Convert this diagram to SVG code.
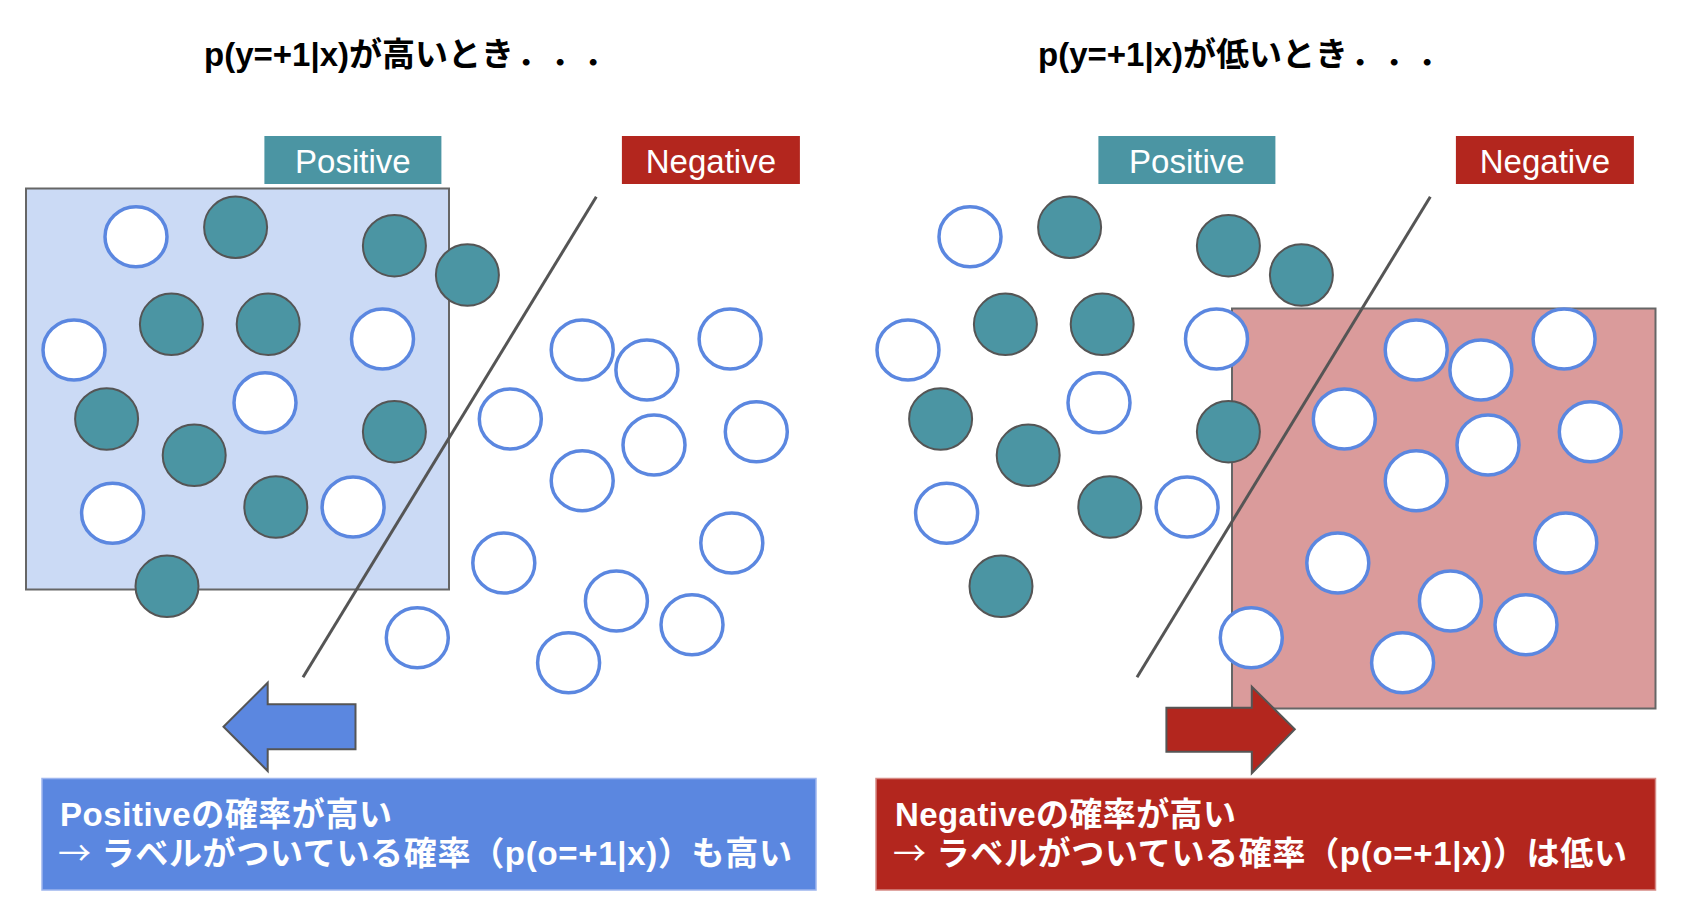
<svg xmlns="http://www.w3.org/2000/svg" xmlns:xlink="http://www.w3.org/1999/xlink" width="1706" height="918" viewBox="0 0 1706 918">
<style>
.title{font-family:"Liberation Sans","Noto Sans CJK JP",sans-serif;font-weight:bold;font-size:33px;fill:#000}
.lbl{font-family:"Liberation Sans","Noto Sans CJK JP",sans-serif;font-size:33px;fill:#fff;text-anchor:middle}
.box{font-family:"Liberation Sans","Noto Sans CJK JP",sans-serif;font-weight:bold;font-size:33px;fill:#fff}
.arr{font-family:"Noto Sans CJK JP",sans-serif;font-weight:normal}
.pos{fill:#4b95a3;stroke:#555;stroke-width:2}
.neg{fill:#fff;stroke:#5b87e0;stroke-width:3.5}
.bound{stroke:#555;stroke-width:3;fill:none}
</style>
<defs>
<g id="points">
<ellipse class="pos" cx="235.6" cy="227.3" rx="31.5" ry="30.7"/>
<ellipse class="pos" cx="394.4" cy="245.7" rx="31.5" ry="30.7"/>
<ellipse class="pos" cx="467.4" cy="275" rx="31.5" ry="30.7"/>
<ellipse class="pos" cx="171.4" cy="324.3" rx="31.5" ry="30.7"/>
<ellipse class="pos" cx="268.2" cy="324.3" rx="31.5" ry="30.7"/>
<ellipse class="pos" cx="106.6" cy="419" rx="31.5" ry="30.7"/>
<ellipse class="pos" cx="194.2" cy="455.3" rx="31.5" ry="30.7"/>
<ellipse class="pos" cx="394.4" cy="431.7" rx="31.5" ry="30.7"/>
<ellipse class="pos" cx="275.8" cy="507" rx="31.5" ry="30.7"/>
<ellipse class="pos" cx="167" cy="586.3" rx="31.5" ry="30.7"/>
<ellipse class="neg" cx="136" cy="236.7" rx="31" ry="30"/>
<ellipse class="neg" cx="74" cy="350" rx="31" ry="30"/>
<ellipse class="neg" cx="382.5" cy="339" rx="31" ry="30"/>
<ellipse class="neg" cx="265" cy="402.7" rx="31" ry="30"/>
<ellipse class="neg" cx="112.6" cy="513.3" rx="31" ry="30"/>
<ellipse class="neg" cx="353.1" cy="507" rx="31" ry="30"/>
<ellipse class="neg" cx="582.2" cy="350" rx="31" ry="30"/>
<ellipse class="neg" cx="646.9" cy="370" rx="31" ry="30"/>
<ellipse class="neg" cx="730.1" cy="339" rx="31" ry="30"/>
<ellipse class="neg" cx="510.3" cy="419" rx="31" ry="30"/>
<ellipse class="neg" cx="654" cy="445" rx="31" ry="30"/>
<ellipse class="neg" cx="756.3" cy="431.7" rx="31" ry="30"/>
<ellipse class="neg" cx="582.2" cy="480.7" rx="31" ry="30"/>
<ellipse class="neg" cx="731.8" cy="543" rx="31" ry="30"/>
<ellipse class="neg" cx="503.8" cy="563" rx="31" ry="30"/>
<ellipse class="neg" cx="616.4" cy="601" rx="31" ry="30"/>
<ellipse class="neg" cx="692" cy="624.7" rx="31" ry="30"/>
<ellipse class="neg" cx="417.3" cy="637.7" rx="31" ry="30"/>
<ellipse class="neg" cx="568.6" cy="662.7" rx="31" ry="30"/>
</g>
</defs>
<rect width="1706" height="918" fill="#fff"/>

<!-- Left panel -->
<g id="title-left"><text class="title" y="66"><tspan x="204">p(y=+1|x)が高いとき</tspan><tspan x="517">．</tspan><tspan x="551">．</tspan><tspan x="584">．</tspan></text></g>
<g id="label-pos-left"><rect x="264.4" y="136" width="177" height="48" fill="#4b95a3"/><text class="lbl" x="352.9" y="173">Positive</text></g>
<g id="label-neg-left"><rect x="621.9" y="136" width="178" height="48" fill="#b3261e"/><text class="lbl" x="710.9" y="173">Negative</text></g>
<g id="region-left"><rect x="26" y="188.5" width="423" height="401" fill="#cbdaf5" stroke="#666" stroke-width="2"/></g>
<g id="points-left"><use xlink:href="#points" href="#points"/></g>
<g id="arrow-left"><path d="M223.5,726.7 L267.7,682.7 L267.7,704.3 L355.5,704.3 L355.5,749.2 L267.7,749.2 L267.7,771 Z" fill="#5b87e0" stroke="#555" stroke-width="2" stroke-linejoin="miter"/></g>
<g id="box-left"><rect x="42" y="778.5" width="774" height="111.5" fill="#5b87e0" stroke="#9db5ee" stroke-width="1.5"/>
<text class="box" x="60" y="826" textLength="332" lengthAdjust="spacing">Positiveの確率が高い</text>
<text class="box" x="58" y="865" textLength="734" lengthAdjust="spacing"><tspan class="arr">→</tspan> ラベルがついている確率（p(o=+1|x)）も高い</text></g>

<!-- Right panel -->
<g id="title-right"><text class="title" y="66"><tspan x="1038">p(y=+1|x)が低いとき</tspan><tspan x="1351">．</tspan><tspan x="1385">．</tspan><tspan x="1418">．</tspan></text></g>
<g id="label-pos-right"><rect x="1098.4" y="136" width="177" height="48" fill="#4b95a3"/><text class="lbl" x="1186.9" y="173">Positive</text></g>
<g id="label-neg-right"><rect x="1455.9" y="136" width="178" height="48" fill="#b3261e"/><text class="lbl" x="1544.9" y="173">Negative</text></g>
<g id="region-right"><rect x="1232" y="308.5" width="423.5" height="400" fill="#da9b9b" stroke="#666" stroke-width="2"/></g>
<g id="points-right"><use xlink:href="#points" href="#points" transform="translate(834,0)"/></g>

<g id="connectors">
<line class="bound" x1="596.3" y1="196.7" x2="303" y2="677.3"/>
<line class="bound" x1="1430.3" y1="196.7" x2="1137" y2="677.3"/>
</g>

<g id="arrow-right"><path d="M1166.4,707.7 L1251.8,707.7 L1251.8,686.7 L1294.8,729.3 L1251.8,773.3 L1251.8,751.7 L1166.4,751.7 Z" fill="#b3261e" stroke="#555" stroke-width="2"/></g>
<g id="box-right"><rect x="876" y="778.5" width="779.5" height="111.5" fill="#b3261e" stroke="#d68a85" stroke-width="1.5"/>
<text class="box" x="895" y="826" textLength="341" lengthAdjust="spacing">Negativeの確率が高い</text>
<text class="box" x="893" y="865" textLength="734" lengthAdjust="spacing"><tspan class="arr">→</tspan> ラベルがついている確率（p(o=+1|x)）は低い</text></g>
</svg>
